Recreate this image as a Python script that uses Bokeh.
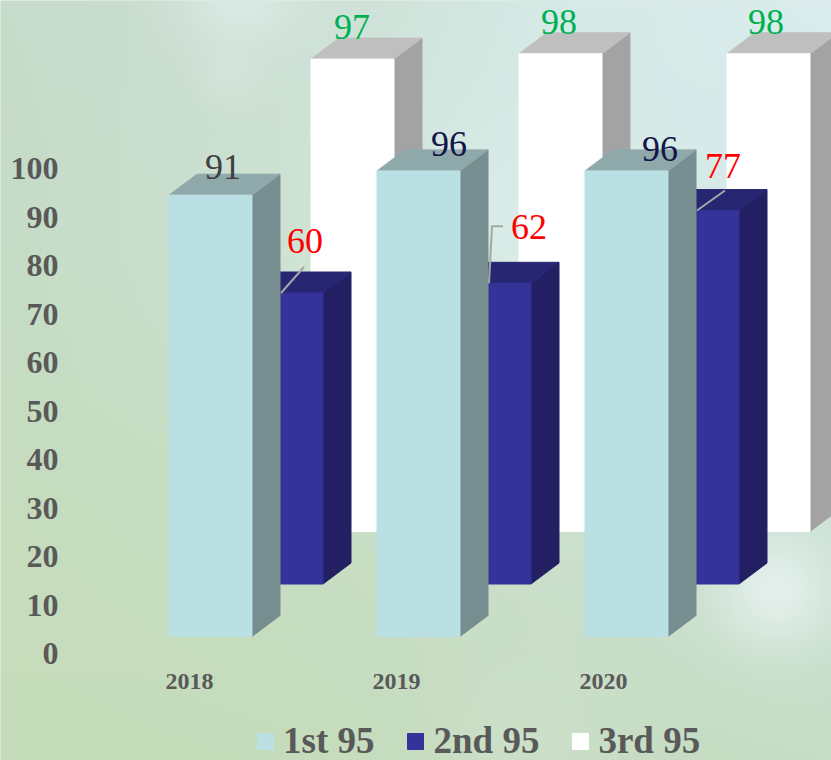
import numpy as np
from bokeh.plotting import figure
from bokeh.embed import file_html
from bokeh.resources import INLINE
from bokeh.models import Range1d, LinearAxis, FixedTicker, Legend, LegendItem
from bokeh.core.properties import value

categories = ["2018", "2019", "2020"]
first_95 = [91, 96, 96]
second_95 = [60, 62, 77]
third_95 = [97.4, 98.5, 98.5]
first_labels = ["91", "96", "96"]
second_labels = ["60", "62", "77"]
third_labels = ["97", "98", "98"]
y_ticks = [0, 10, 20, 30, 40, 50, 60, 70, 80, 90, 100]
series_names = ["1st 95", "2nd 95", "3rd 95"]

W, H = 831, 760
PX = 4.85  # pixels per value unit
FONT = "Liberation Serif"

def val(py):
    return (636 - py) / PX

p = figure(width=W, height=H, output_backend="svg", toolbar_location=None,
           x_range=Range1d(0, W), y_range=Range1d(val(H), val(0)),
           min_border=0, outline_line_color=None, background_fill_color="#C6DCC4",
           border_fill_color="#C6DCC4")
p.grid.visible = False
p.xaxis.visible = False
p.yaxis.visible = False
p.extra_y_ranges["ticks"] = Range1d((653 - H) / PX, 653 / PX)

# soft background
xs = np.arange(W)
ys = np.arange(H)
gx = [0, 280, 560, 831]
gy = [0, 250, 500, 760]
grid = np.array([
    [(199, 220, 204), (204, 223, 211), (214, 234, 231), (219, 237, 238)],
    [(197, 220, 198), (206, 227, 212), (216, 236, 233), (211, 232, 231)],
    [(198, 220, 190), (200, 222, 196), (205, 225, 208), (205, 226, 216)],
    [(198, 221, 186), (197, 220, 188), (198, 220, 193), (198, 222, 198)],
], dtype=float)
rgb = np.zeros((H, W, 3))
for c in range(3):
    rows = np.array([np.interp(xs, gx, grid[r, :, c]) for r in range(4)])
    for i in range(W):
        rgb[:, i, c] = np.interp(ys, gy, rows[:, i])
X, Y = np.meshgrid(xs, ys)
for cx, cy, rad, amp, tint in [(240, -12, 45, 0.75, (224, 238, 236)),
                               (228, 75, 20, 0.30, (222, 238, 230)),
                               (775, 590, 40, 0.70, (238, 247, 247)),
                               (500, 200, 55, 0.25, (230, 242, 240)),
                               (520, 745, 60, 0.25, (222, 236, 222))]:
    a = amp * np.exp(-((X - cx) ** 2 + (Y - cy) ** 2) / (2 * rad ** 2))
    for c in range(3):
        rgb[:, :, c] = rgb[:, :, c] * (1 - a) + tint[c] * a
img = np.zeros((H, W), dtype=np.uint32)
view = img.view(dtype=np.uint8).reshape((H, W, 4))
view[:, :, :3] = np.clip(rgb[::-1], 0, 255).astype(np.uint8)
view[:, :, 3] = 255
p.image_rgba(image=[img], x=0, y=val(H), dw=W, dh=val(0) - val(H), level="underlay")

# pseudo-3D column geometry
BAR_W = 83
DEPTH_X, DEPTH_Y = 28, 21
STEP_X = 208
SERIES_DX, SERIES_DY = 71, 52.5
LEFT0 = 168.5

styles = [("#BBE0E3", "#778E90", "#8FA9AB"),
          ("#333399", "#222063", "#262673"),
          ("#FFFFFF", "#A3A3A3", "#BFBFBF")]
all_series = [first_95, second_95, third_95]
front_renderers = {}
for s in (2, 1, 0):
    vals = all_series[s]
    front, side, top = styles[s]
    lefts = [LEFT0 + STEP_X * i + SERIES_DX * s for i in range(len(vals))]
    base = SERIES_DY * s / PX
    dv = DEPTH_Y / PX
    tops = [base + v for v in vals]
    side_x = [[l + BAR_W, l + BAR_W + DEPTH_X, l + BAR_W + DEPTH_X, l + BAR_W] for l in lefts]
    side_y = [[base, base + dv, t + dv, t] for t in tops]
    top_x = [[l, l + DEPTH_X, l + BAR_W + DEPTH_X, l + BAR_W] for l in lefts]
    top_y = [[t, t + dv, t + dv, t] for t in tops]
    p.patches(side_x, side_y, fill_color=side, line_color=side)
    p.patches(top_x, top_y, fill_color=top, line_color=top)
    front_renderers[s] = p.quad(left=lefts, right=[l + BAR_W for l in lefts],
                                bottom=[base] * len(vals), top=tops,
                                fill_color=front, line_color=front)

# leader lines, anchored to the top of each 2nd-95 bar
lead = "#A6A6A6"
leaders = [([0, 23], [0, 26]), ([0, 3, 14], [0, 57, 57]), ([0, 28], [0, 20])]
for i, (dx, dy) in enumerate(leaders):
    ax = LEFT0 + STEP_X * (i + 1) - 96
    ay = second_95[i] + SERIES_DY / PX
    p.line([ax + d for d in dx], [ay + d / PX for d in dy], line_color=lead, line_width=2)

# value labels
def labels(texts, vals, s, nudges, colors):
    xs_ = [LEFT0 + STEP_X * i + SERIES_DX * s + n[0] for i, n in enumerate(nudges)]
    ys_ = [SERIES_DY * s / PX + v + n[1] / PX for v, n in zip(vals, nudges)]
    p.text(xs_, ys_, text=texts, text_color=colors, text_font=value(FONT),
           text_font_size="36px", text_align="center", text_baseline="middle")

labels(first_labels, first_95, 0, [(54, 28), (72, 27), (75, 22)], ["#404040", "#14144A", "#14144A"])
labels(second_labels, second_95, 1, [(65, 52), (81, 56), (67, 45)], ["#FF0000"] * 3)
labels(third_labels, third_95, 2, [(41, 32), (40, 32), (39, 32)], ["#00B050"] * 3)

# axes
yax = LinearAxis(y_range_name="ticks", ticker=FixedTicker(ticks=y_ticks), fixed_location=60)
yax.axis_line_color = None
yax.major_tick_line_color = None
yax.minor_tick_line_color = None
yax.major_tick_out = 0
yax.major_tick_in = 0
yax.major_label_standoff = 2
yax.major_label_text_font = FONT
yax.major_label_text_font_style = "bold"
yax.major_label_text_font_size = "32px"
yax.major_label_text_color = "#595959"
p.add_layout(yax, "left")

xax = LinearAxis(ticker=FixedTicker(ticks=[189, 396, 603]),
                 major_label_overrides={189: categories[0], 396: categories[1], 603: categories[2]},
                 fixed_location=val(671))
xax.axis_line_color = None
xax.major_tick_line_color = None
xax.minor_tick_line_color = None
xax.major_tick_out = 0
xax.major_tick_in = 0
xax.major_label_standoff = 2
xax.major_label_text_font = FONT
xax.major_label_text_font_style = "bold"
xax.major_label_text_font_size = "24px"
xax.major_label_text_color = "#595959"
p.add_layout(xax, "below")

# legend
legend = Legend(items=[LegendItem(label=series_names[s], renderers=[front_renderers[s]]) for s in range(3)],
                orientation="horizontal", location=(255, -2),
                background_fill_alpha=0, border_line_color=None,
                glyph_width=20, glyph_height=20, label_standoff=8, spacing=31,
                margin=0, padding=0,
                label_text_font=FONT, label_text_font_style="bold",
                label_text_font_size="37px", label_text_color="#595959")
p.add_layout(legend, "center")

open("out.html", "w").write(file_html(p, INLINE))
